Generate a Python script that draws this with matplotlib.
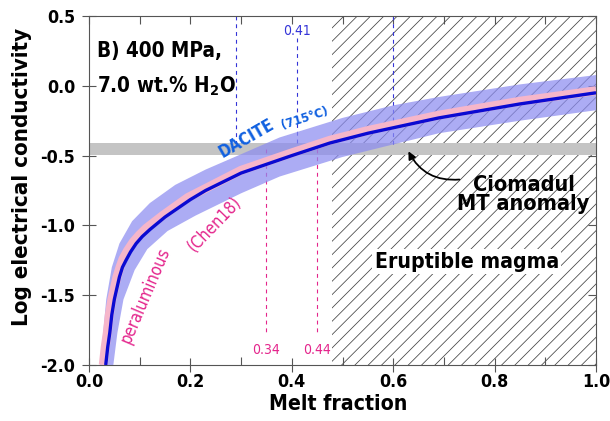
import numpy as np
import matplotlib
matplotlib.use("Agg")
import matplotlib.pyplot as plt
from matplotlib.ticker import MultipleLocator, FormatStrFormatter, NullFormatter

plt.rcParams["font.family"] = ["DejaVu Sans"]
plt.rcParams["font.stretch"] = "condensed"
plt.rcParams["axes.unicode_minus"] = False
plt.rcParams["mathtext.fontset"] = "custom"
plt.rcParams["mathtext.rm"] = "DejaVu Sans:bold:stretch=condensed"
plt.rcParams["mathtext.bf"] = "DejaVu Sans:bold:stretch=condensed"
plt.rcParams["hatch.linewidth"] = 0.7

# dacite model (blue line)
dac_x = [0.033, 0.037, 0.041, 0.045, 0.05, 0.06, 0.066, 0.073, 0.082, 0.093, 0.105,
         0.12, 0.15, 0.20, 0.23, 0.30, 0.36, 0.40, 0.475, 0.55, 0.69, 0.85, 1.0]
dac_y = [-2.0, -1.87, -1.77, -1.64, -1.53, -1.37, -1.30, -1.25, -1.19, -1.13, -1.08,
         -1.03, -0.94, -0.815, -0.75, -0.625, -0.55, -0.50, -0.41, -0.34, -0.23, -0.13, -0.05]

# uncertainty envelope of the dacite model
up_x = [0.022, 0.028, 0.034, 0.045, 0.06, 0.085, 0.12, 0.17, 0.23, 0.30,
        0.376, 0.5, 0.6, 0.69, 0.85, 1.0]
up_y = [-2.0, -1.77, -1.53, -1.30, -1.13, -0.97, -0.84, -0.71, -0.60, -0.49,
        -0.37, -0.23, -0.14, -0.08, 0.01, 0.077]
lo_x = [0.048, 0.056, 0.068, 0.09, 0.115, 0.155, 0.21, 0.30, 0.376, 0.5,
        0.6, 0.69, 0.85, 1.0]
lo_y = [-2.0, -1.77, -1.53, -1.32, -1.17, -1.04, -0.93, -0.77, -0.65, -0.51,
        -0.42, -0.34, -0.25, -0.175]

# peraluminous melt (Chen18)
per_x = [0.028, 0.032, 0.036, 0.040, 0.045, 0.055, 0.061, 0.067, 0.076, 0.087, 0.099,
         0.113, 0.145, 0.195, 0.23, 0.30, 0.36, 0.40, 0.475, 0.55, 0.69, 0.85, 1.0]
per_y = [-2.0, -1.87, -1.77, -1.64, -1.53, -1.37, -1.30, -1.24, -1.18, -1.12, -1.07,
         -1.02, -0.93, -0.80, -0.735, -0.605, -0.53, -0.48, -0.39, -0.32, -0.21, -0.11, -0.035]

# MT anomaly band and critical melt fractions
mt_band = (-0.495, -0.41)
dac_crit = [0.29, 0.41, 0.60]
dac_crit_top = [0.5, 0.34, 0.5]
per_crit = [0.35, 0.45]
per_crit_lab = ["0.34", "0.44"]
erupt_min = 0.48

blue = "#0a0ad2"
pink = "#f6b6ca"
magenta = "#e4258c"
dashblue = "#3434d8"
axcol = "#555555"

fig = plt.figure(figsize=(610 / 80, 421 / 80), dpi=80)
ax = fig.add_axes([89 / 610, 1 - 365 / 421, (596 - 89) / 610, (365 - 16) / 421])

ax.axvspan(erupt_min, 1.0, facecolor="none", edgecolor="#444444", hatch="//", lw=0, zorder=1)
ax.axhspan(mt_band[0], mt_band[1], color="#c4c4c4", lw=0, zorder=2)

for xc, yt in zip(dac_crit, dac_crit_top):
    ax.plot([xc, xc], [yt, -0.42], ls=(0, (3.5, 3.5)), color=dashblue, lw=1.0, zorder=2.5)
for xc in per_crit:
    ax.plot([xc, xc], [-0.45, -1.78], ls=(0, (3.5, 3.5)), color=magenta, lw=1.0, zorder=2.5)

ax.fill(np.concatenate([up_x, lo_x[::-1]]), np.concatenate([up_y, lo_y[::-1]]),
        color="#8c8cf0", alpha=0.72, lw=0, zorder=3)
ax.plot(per_x, per_y, color=pink, lw=8, solid_capstyle="butt", solid_joinstyle="round", zorder=4)
ax.plot(dac_x, dac_y, color=blue, lw=3, solid_capstyle="butt", solid_joinstyle="round", zorder=5)

ax.text(0.41, 0.39, "0.41", color=dashblue, fontsize=12.5, ha="center", va="center", zorder=6)
for xc, lab in zip(per_crit, per_crit_lab):
    ax.text(xc, -1.89, lab, color=magenta, fontsize=12.5, ha="center", va="center")

ax.text(0.016, 0.206, "B) 400 MPa,", fontsize=18.5, fontweight="bold", va="baseline")
ax.text(0.016, -0.05, r"7.0 wt.% H$_\mathbf{2}$O", fontsize=18.5, fontweight="bold", va="baseline")

ax.text(0.311, -0.374, "DACITE", color="#1060e0", fontsize=15, fontweight="bold",
        rotation=30, ha="center", va="center", zorder=6)
ax.text(0.425, -0.235, "(715°C)", color="#1060e0", fontsize=11.5, fontweight="bold",
        rotation=18, ha="center", va="center", zorder=6)

ax.text(0.112, -1.50, "peraluminous", color=magenta, fontsize=15,
        rotation=67, ha="center", va="center", zorder=6)
ax.text(0.248, -0.99, "(Chen18)", color=magenta, fontsize=15,
        rotation=46, ha="center", va="center", zorder=6)

ax.text(0.857, -0.78, "Ciomadul\nMT anomaly", fontsize=19.5, fontweight="bold",
        ha="center", va="center", linespacing=0.92, zorder=6)
ax.annotate("", xy=(0.628, -0.455), xytext=(0.735, -0.67),
            arrowprops=dict(arrowstyle="-|>", connectionstyle="arc3,rad=-0.35",
                            color="k", lw=1.6, mutation_scale=14), zorder=6)
ax.text(0.745, -1.26, "Eruptible magma", fontsize=19, fontweight="bold",
        ha="center", va="center", zorder=6,
        bbox=dict(facecolor="white", edgecolor="none", pad=2))

ax.set_xlim(0, 1)
ax.set_ylim(-2, 0.5)
ax.xaxis.set_major_locator(MultipleLocator(0.2))
ax.xaxis.set_minor_locator(MultipleLocator(0.1))
ax.yaxis.set_major_locator(MultipleLocator(0.5))
ax.xaxis.set_major_formatter(FormatStrFormatter("%.1f"))
ax.yaxis.set_major_formatter(FormatStrFormatter("%.1f"))
ax.tick_params(axis="both", which="major", direction="inout", length=13, width=1,
               color=axcol, labelsize=16)
ax.tick_params(axis="x", which="major", pad=1)
ax.tick_params(axis="y", which="major", pad=6)
ax.tick_params(axis="x", which="minor", direction="in", length=7, width=1, color=axcol)
for lab in ax.get_xticklabels() + ax.get_yticklabels():
    lab.set_fontweight("bold")
for s in ax.spines.values():
    s.set_color(axcol)
    s.set_linewidth(1)

# top and right ticks point inward only
top = ax.secondary_xaxis("top")
top.xaxis.set_major_locator(MultipleLocator(0.2))
top.xaxis.set_minor_locator(MultipleLocator(0.1))
top.xaxis.set_major_formatter(NullFormatter())
top.tick_params(which="both", direction="in", length=7, width=1, color=axcol)
top.spines["top"].set_color(axcol)
right = ax.secondary_yaxis("right")
right.yaxis.set_major_locator(MultipleLocator(0.5))
right.yaxis.set_major_formatter(NullFormatter())
right.tick_params(which="both", direction="in", length=7, width=1, color=axcol)
right.spines["right"].set_color(axcol)

ax.set_xlabel("Melt fraction", fontsize=19, fontweight="bold")
ax.xaxis.set_label_coords(0.491, -0.082)
ax.set_ylabel("Log electrical conductivity", fontsize=20, fontweight="bold")
ax.yaxis.set_label_coords(-0.112, 0.54)

fig.savefig("out.png", dpi=80)
